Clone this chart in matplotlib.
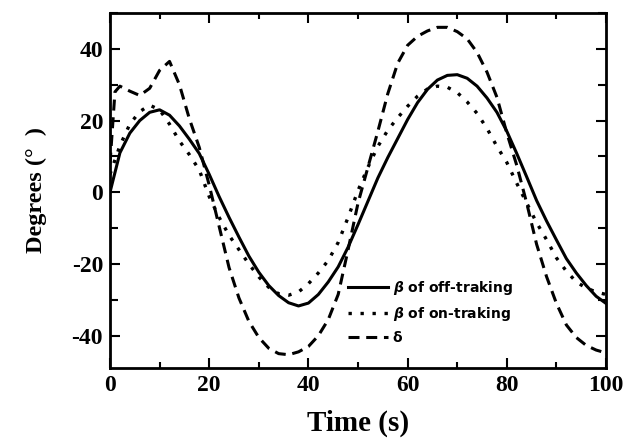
import matplotlib
matplotlib.use("Agg")
import matplotlib.pyplot as plt
from matplotlib.ticker import MultipleLocator

plt.rcParams["axes.unicode_minus"] = False

# ---- data ----
t = [0, 2, 4, 6, 8, 10, 12, 14, 16, 18, 20, 22, 24, 26, 28, 30, 32, 34, 36, 38,
     40, 42, 44, 46, 48, 50, 52, 54, 56, 58, 60, 62, 64, 66, 68, 70, 72, 74, 76, 78,
     80, 82, 84, 86, 88, 90, 92, 94, 96, 98, 100]

beta_off = [0, 11, 16.5, 20, 22.3, 23, 21.5, 18.5, 14.8, 10.8, 5, -1.2, -7, -12.5, -17.8, -22.3,
            -26, -28.8, -30.8, -31.7, -30.9, -28.5, -25, -20.8, -15.3, -9, -2.5, 4, 9.7, 15,
            20.3, 25, 28.7, 31.3, 32.6, 32.8, 31.8, 29.6, 26.3, 22.3, 17, 10.8, 4.3, -2.3, -8,
            -13.3, -18.5, -22.5, -26, -29, -31]

beta_on = [5, 13, 19, 22.5, 24.3, 23, 19, 14.3, 10.5, 6.2, -1.2, -7, -12, -16, -20, -23.6,
           -26.5, -28.3, -28.7, -27.8, -25.5, -22.5, -19, -14, -7, 0.5, 7, 12.8, 17.3, 20.8,
           24, 26.8, 28.8, 29.6, 29.3, 27.8, 25.2, 22, 17.8, 12.8, 8.3, 2.5, -3, -8.5, -13.2,
           -18.3, -22, -25, -26.7, -27.8, -28.5]

t_delta = [0, 1, 2, 4, 6, 8, 10, 12, 14, 16, 18, 20, 22, 24, 26, 28, 30, 32, 34, 36, 38,
           40, 42, 44, 46, 48, 50, 52, 54, 56, 58, 60, 62, 64, 66, 68, 70, 72, 74, 76, 78,
           80, 82, 84, 86, 88, 90, 92, 94, 96, 98, 100]
delta = [8, 28, 29.6, 28.2, 27, 29, 34, 36.5, 30, 20.5, 12.5, 2, -9.5, -21, -29.5, -36, -40.5,
         -43.5, -45, -45.3, -44.5, -43, -40, -35.5, -28.5, -16, -3, 7, 17, 27.5, 36, 41, 43.5,
         45, 46, 46, 44.8, 42.8, 39, 33.5, 26.5, 16.5, 7.5, -3, -14.5, -23.5, -31, -37, -40.5,
         -42.7, -44, -44.8]

labels = ["of off-traking", "of on-traking", "\u03b4"]
xlabel = "Time (s)"
ylabel = "Degrees (\u00b0  )"

# ---- figure ----
fig = plt.figure(figsize=(6.3, 4.48), dpi=100)
ax = fig.add_axes([0.1746, 0.1786, 0.7874, 0.7924])

ax.plot(t, beta_off, color="black", lw=2.2, ls="-", label="$\\boldsymbol{\\beta}$ " + labels[0])
ax.plot(t, beta_on, color="black", lw=2.4, ls=(0, (1.0, 2.6)), label="$\\boldsymbol{\\beta}$ " + labels[1])
ax.plot(t_delta, delta, color="black", lw=2.2, ls=(0, (3.6, 2.2)), label=labels[2])

ax.set_xlim(0, 100)
ax.set_ylim(-49, 50)

ax.xaxis.set_major_locator(MultipleLocator(20))
ax.xaxis.set_minor_locator(MultipleLocator(10))
ax.yaxis.set_major_locator(MultipleLocator(20))
ax.yaxis.set_minor_locator(MultipleLocator(10))
ax.tick_params(which="both", direction="in", top=True, right=True, width=1.5, color="black")
ax.tick_params(which="major", length=7, pad=5)
ax.tick_params(which="minor", length=4)
ax.tick_params(axis="y", which="minor", length=6)

for lab in ax.get_xticklabels() + ax.get_yticklabels():
    lab.set_fontfamily("Liberation Serif")
    lab.set_fontweight("bold")
    lab.set_fontsize(17)

for s in ax.spines.values():
    s.set_linewidth(2)

ax.set_xlabel(xlabel, fontfamily="Liberation Serif", fontweight="bold", fontsize=21, labelpad=10)
ax.set_ylabel(ylabel, fontfamily="Liberation Serif", fontweight="bold", fontsize=17.5, labelpad=18)

leg = ax.legend(loc="upper left", bbox_to_anchor=(0.455, 0.285), frameon=False,
                handlelength=2.9, handletextpad=0.3, labelspacing=0.55,
                prop={"family": "DejaVu Sans", "weight": "bold", "size": 10})

fig.savefig("out.png", dpi=100)
